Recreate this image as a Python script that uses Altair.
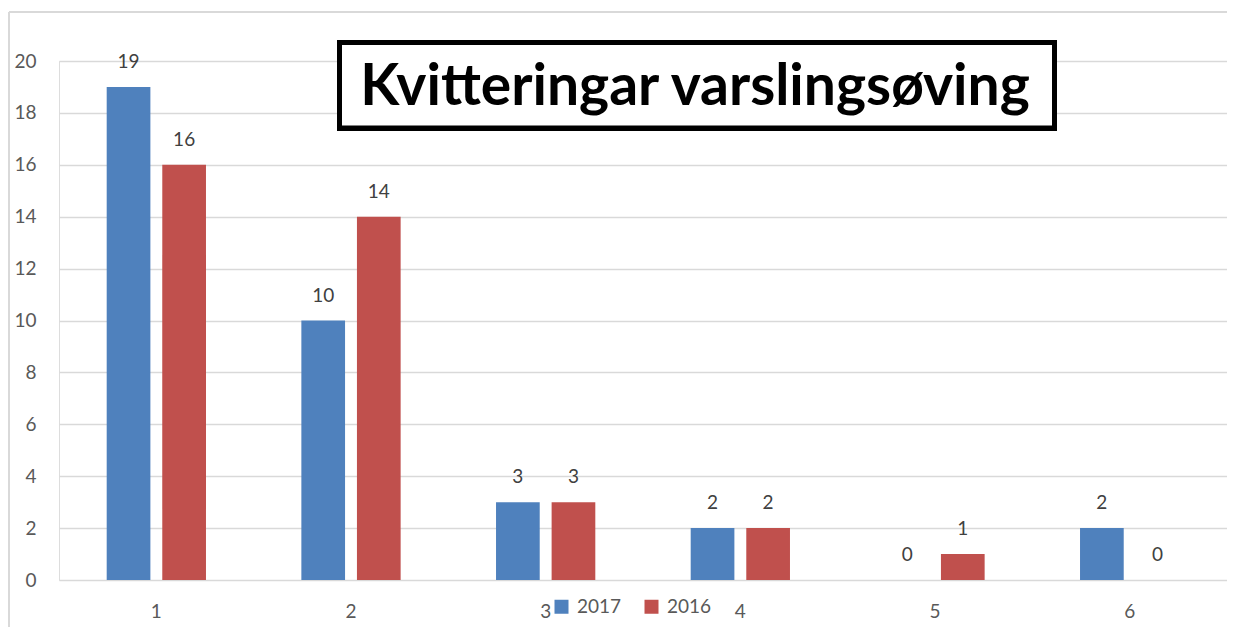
import altair as alt
import pandas as pd

categories = ["1", "2", "3", "4", "5", "6"]
series_names = ["2017", "2016"]
values_2017 = [19, 10, 3, 2, 0, 2]
values_2016 = [16, 14, 3, 2, 1, 0]
y_ticks = [0, 2, 4, 6, 8, 10, 12, 14, 16, 18, 20]
title_text = "Kvitteringar varslingsøving"
colors = ["#4F81BD", "#C0504D"]

rows = []
for c, a, b in zip(categories, values_2017, values_2016):
    rows.append({"cat": c, "series": "2017", "value": a})
    rows.append({"cat": c, "series": "2016", "value": b})
df = pd.DataFrame(rows)

W, H = 1168, 519
FONT = "Lato"
GRID = "#D9D9D9"

x_enc = alt.X("cat:N", sort=categories,
              scale=alt.Scale(paddingInner=0.49, paddingOuter=0.245),
              axis=alt.Axis(title=None, labelAngle=0, ticks=False, tickSize=0, domain=False,
                            labelFont=FONT, labelFontSize=19, labelColor="#595959",
                            labelPadding=22, grid=False))
xoff = alt.XOffset("series:N", sort=series_names,
                   scale=alt.Scale(paddingInner=0.214, paddingOuter=0))
y_enc = alt.Y("value:Q", scale=alt.Scale(domain=[0, 20], nice=False),
              axis=alt.Axis(title=None, values=y_ticks, ticks=False, domain=False,
                            gridColor=GRID, gridWidth=1.5,
                            labelFont=FONT, labelFontSize=19, labelColor="#595959",
                            labelPadding=23))
color_enc = alt.Color("series:N", sort=series_names,
                      scale=alt.Scale(domain=series_names, range=colors),
                      legend=alt.Legend(title=None, orient="none", direction="horizontal",
                                        legendX=493, legendY=536,
                                        symbolType="square", symbolSize=196,
                                        symbolStrokeWidth=0, labelFont=FONT,
                                        labelFontSize=19, labelColor="#595959",
                                        labelOffset=6, columnPadding=20))

base = alt.Chart(df)

frame_v = base.mark_rule(color=GRID, strokeWidth=1.5).encode(
    x=alt.value(-50), y=alt.value(-49), y2=alt.value(H + 47))
frame_h = base.mark_rule(color=GRID, strokeWidth=1.5).encode(
    x=alt.value(-50), x2=alt.value(W), y=alt.value(-49))

bars = base.mark_bar().encode(x=x_enc, xOffset=xoff, y=y_enc, color=color_enc)

labels = base.mark_text(font=FONT, fontSize=19, color="#404040", baseline="middle", dy=-25).encode(
    x=alt.X("cat:N", sort=categories), xOffset=alt.XOffset("series:N", sort=series_names),
    y="value:Q", text="value:Q")

box = base.mark_rect(fill="white", stroke="black", strokeWidth=5).encode(
    x=alt.value(280.5), x2=alt.value(995.5), y=alt.value(-18.5), y2=alt.value(67))

title = alt.Chart(pd.DataFrame({"t": [title_text]})).mark_text(
    font=FONT, fontSize=57, fontWeight="bold", color="black",
    align="center", baseline="alphabetic").encode(
    x=alt.value(636), y=alt.value(44), text="t:N")

chart = alt.layer(frame_v, frame_h, bars, labels, box, title).properties(
    width=W, height=H,
    autosize=alt.AutoSizeParams(type="none"),
    padding={"left": 51, "top": 53, "right": 0, "bottom": 47},
).configure_view(strokeWidth=0).configure(background="white")

chart.save("out.html", embed_options={"renderer": "svg", "actions": False})
